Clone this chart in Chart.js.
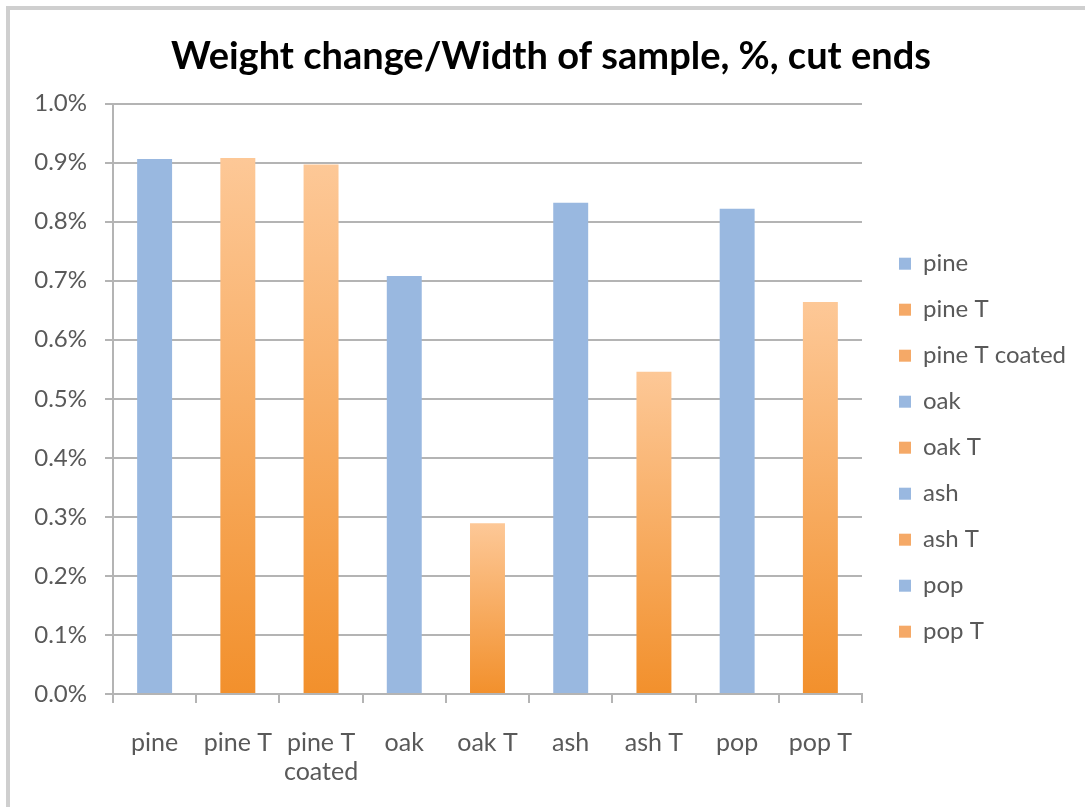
<!DOCTYPE html>
<html>
<head>
<meta charset="utf-8">
<script src="https://cdn.jsdelivr.net/npm/chart.js@4/dist/chart.umd.min.js"></script>
<style>
  html, body { margin: 0; padding: 0; background: #ffffff; overflow: hidden; width: 1085px; height: 807px; }
  #frame {
    position: absolute; left: 6px; top: 6px; width: 1200px; height: 900px;
    border-left: 4px solid #cfcfcf; border-top: 4px solid #cfcfcf;
    box-sizing: border-box;
  }
  #wrap { position: absolute; left: 0; top: 0; width: 1085px; height: 807px; }
</style>
</head>
<body>
<div id="frame"></div>
<div id="wrap"><canvas id="chart" width="1085" height="807"></canvas></div>
<script>
// Sample names shown on the category axis and in the legend
const categories = [
  ['pine'], ['pine T'], ['pine T', 'coated'], ['oak'], ['oak T'],
  ['ash'], ['ash T'], ['pop'], ['pop T']
];
// Weight change divided by sample width, in percent
const weightChange = [0.906, 0.908, 0.897, 0.708, 0.289, 0.832, 0.546, 0.822, 0.664];
// Whether each sample was treated (orange) or untreated (blue)
const treated = [false, true, true, false, true, false, true, false, true];
// Value-axis ticks, in percent
const yTicks = [0.0, 0.1, 0.2, 0.3, 0.4, 0.5, 0.6, 0.7, 0.8, 0.9, 1.0];

const BLUE = '#99b8e0';
const ORANGE_LEGEND = '#f5a967';
const ORANGE_TOP = '#fdc897';
const ORANGE_BOTTOM = '#f2902c';
const GRID = '#b4b4b4';
const TEXT = '#595959';
const FONT = 'Lato, "Open Sans", sans-serif';

function barFill(ctx) {
  const i = ctx.dataIndex;
  if (i === undefined || !treated[i]) return BLUE;
  const chart = ctx.chart;
  const area = chart.chartArea;
  if (!area || !chart.scales.y) return ORANGE_LEGEND;
  const yTop = chart.scales.y.getPixelForValue(weightChange[i]);
  const g = chart.ctx.createLinearGradient(0, yTop, 0, area.bottom);
  g.addColorStop(0, ORANGE_TOP);
  g.addColorStop(1, ORANGE_BOTTOM);
  return g;
}

// centre the title across the framed card rather than the padded canvas
const titleSpan = {
  id: 'titleSpan',
  afterLayout(chart) {
    const t = chart.titleBlock;
    if (t) { t.left = 17; t.right = chart.width; }
  }
};

new Chart(document.getElementById('chart'), {
  type: 'bar',
  data: {
    labels: categories,
    datasets: [{
      label: 'Weight change/Width of sample',
      data: weightChange,
      backgroundColor: barFill,
      borderWidth: 0,
      barPercentage: 0.84,
      categoryPercentage: 0.5
    }]
  },
  plugins: [titleSpan],
  options: {
    responsive: false,
    animation: false,
    devicePixelRatio: 1,
    layout: { padding: { left: 0, right: 9, top: 0, bottom: 0 } },
    plugins: {
      title: {
        display: true,
        text: 'Weight change/Width of sample, %, cut ends',
        color: '#000000',
        font: { family: FONT, size: 38, weight: 'bold' },
        padding: { top: 34, bottom: 24 }
      },
      legend: {
        position: 'right',
        align: 'center',
        maxWidth: 320,
        title: { display: true, text: '', padding: { top: 37, bottom: 37 } },
        labels: {
          color: TEXT,
          font: { family: FONT, size: 24 },
          boxWidth: 12,
          boxHeight: 12,
          padding: 22,
          generateLabels: () => categories.map((c, i) => ({
            text: c.join(' '),
            fillStyle: treated[i] ? ORANGE_LEGEND : BLUE,
            strokeStyle: treated[i] ? ORANGE_LEGEND : BLUE,
            lineWidth: 0,
            fontColor: TEXT,
            hidden: false,
            index: i
          }))
        },
        onClick: null
      },
      tooltip: { enabled: false }
    },
    scales: {
      x: {
        grid: {
          display: true,
          offset: true,
          drawOnChartArea: false,
          drawTicks: true,
          tickLength: 9,
          color: GRID,
          lineWidth: 2
        },
        border: { display: true, color: GRID, width: 2 },
        ticks: {
          color: TEXT,
          font: { family: FONT, size: 25, lineHeight: 1.16 },
          padding: 25,
          maxRotation: 0,
          autoSkip: false
        },
        afterFit: s => { s.height = 113; }
      },
      y: {
        min: yTicks[0],
        max: yTicks[yTicks.length - 1],
        afterBuildTicks: s => { s.ticks = yTicks.map(v => ({ value: v })); },
        grid: {
          color: GRID,
          lineWidth: 2,
          drawTicks: true,
          tickLength: 8
        },
        border: { display: true, color: GRID, width: 2 },
        ticks: {
          color: TEXT,
          font: { family: FONT, size: 24 },
          padding: 18,
          callback: v => Number(v).toFixed(1) + '%'
        },
        afterFit: s => { s.width = 113; }
      },
      // empty right-hand spacer between the plot and the legend
      gap: {
        type: 'linear',
        position: 'right',
        display: true,
        grid: { display: false, drawTicks: false },
        border: { display: false },
        ticks: { display: false },
        afterFit: s => { s.width = 15; }
      }
    }
  }
});
</script>
</body>
</html>
